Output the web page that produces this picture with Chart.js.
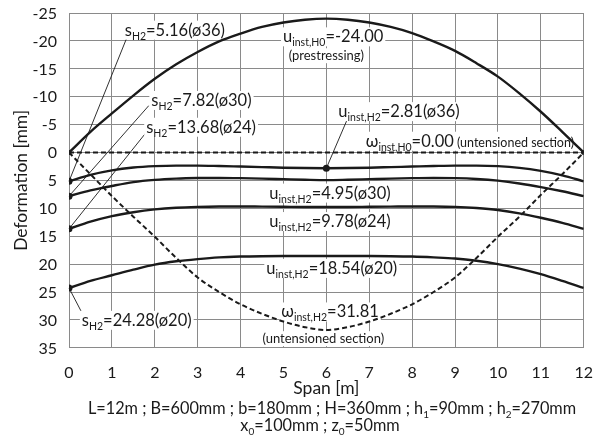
<!DOCTYPE html>
<html>
<head>
<meta charset="utf-8">
<script src="https://cdn.jsdelivr.net/npm/chart.js@4.4.1/dist/chart.umd.min.js"></script>
<style>
  html, body { margin: 0; padding: 0; background: #fff; }
  canvas { display: block; }
</style>
</head>
<body>
<canvas id="deform" width="608" height="436"></canvas>
<script>
// span positions [m]
var spanX = [0, 0.5, 1, 1.5, 2, 2.5, 3, 3.5, 4, 4.5, 5, 5.5, 6, 6.5, 7, 7.5, 8, 8.5, 9, 9.5, 10, 10.5, 11, 11.5, 12];

// u_inst,H0 (prestressing)
var uH0 = [0, -3.7, -7.0, -10.2, -13.2, -15.8, -18.0, -19.9, -21.3, -22.5, -23.3, -23.8, -24.0,
           -23.8, -23.3, -22.5, -21.4, -19.9, -18.2, -16.0, -13.6, -10.6, -7.3, -3.7, 0];
// u_inst,H2 for each bar diameter
var uPhi36 = [5.16, 4.0, 3.2, 2.7, 2.45, 2.35, 2.35, 2.42, 2.52, 2.62, 2.72, 2.79, 2.81,
              2.79, 2.72, 2.62, 2.52, 2.42, 2.35, 2.35, 2.45, 2.75, 3.3, 4.1, 5.16];
var uPhi30 = [7.82, 6.8, 6.0, 5.3, 4.9, 4.68, 4.58, 4.56, 4.6, 4.68, 4.78, 4.88, 4.95,
              4.88, 4.78, 4.68, 4.6, 4.56, 4.6, 4.75, 5.05, 5.55, 6.2, 6.95, 7.82];
var uPhi24 = [13.68, 12.4, 11.4, 10.7, 10.2, 9.9, 9.75, 9.68, 9.67, 9.7, 9.73, 9.76, 9.78,
              9.76, 9.73, 9.7, 9.67, 9.68, 9.75, 9.95, 10.3, 10.9, 11.7, 12.6, 13.68];
var uPhi20 = [24.28, 23.0, 22.0, 21.0, 20.1, 19.5, 19.1, 18.8, 18.65, 18.58, 18.55, 18.54, 18.54,
              18.54, 18.55, 18.58, 18.65, 18.8, 19.0, 19.4, 20.0, 20.8, 21.8, 23.0, 24.28];
// omega_inst,H2 (untensioned section)
var omegaH2 = [0, 3.9, 7.8, 11.5, 15.1, 18.9, 22.4, 25.0, 27.2, 28.9, 30.3, 31.3, 31.81,
               31.3, 30.3, 28.9, 27.2, 25.0, 22.4, 18.9, 15.1, 11.5, 7.6, 3.9, 0];
// omega_inst,H0 (untensioned section)
var omegaH0X = [0, 12];
var omegaH0 = [0, 0];

var yMin = -25, yMax = 35, yStep = 5;
var xMin = 0, xMax = 12, xStep = 1;

var FONT = 'Lato, "Open Sans", sans-serif';
var INK = '#1a1a1a';

function pts(xs, ys) {
  return ys.map(function (v, i) { return { x: xs[i], y: v }; });
}
function startDot(n, extra) {
  var r = [];
  for (var i = 0; i < n; i++) r.push(i === 0 || i === extra ? 3.5 : 0);
  return r;
}

function solid(data, dots) {
  return {
    data: pts(spanX, data),
    borderColor: INK, backgroundColor: INK, borderWidth: 2.4,
    pointRadius: dots, pointBackgroundColor: INK, pointBorderWidth: 0,
    cubicInterpolationMode: 'monotone', fill: false
  };
}

var datasets = [
  solid(uH0, 0),
  solid(uPhi36, startDot(spanX.length, 12)),
  solid(uPhi30, startDot(spanX.length)),
  solid(uPhi24, startDot(spanX.length)),
  solid(uPhi20, startDot(spanX.length)),
  {
    data: pts(spanX, omegaH2), borderColor: INK, borderWidth: 2, borderDash: [5, 3],
    pointRadius: 0, cubicInterpolationMode: 'monotone', fill: false
  },
  {
    data: pts(omegaH0X, omegaH0), borderColor: INK, borderWidth: 2, borderDash: [5, 3],
    pointRadius: [2.5, 2.5], pointBackgroundColor: INK, pointBorderWidth: 0, fill: false
  }
];

// rich text: parts = [text, size, isSubscript]
function richWidth(ctx, parts) {
  var w = 0;
  parts.forEach(function (p) { ctx.font = p[1] + 'px ' + FONT; w += ctx.measureText(p[0]).width; });
  return w;
}
function drawRich(ctx, parts, x, cy, align, box) {
  var w = richWidth(ctx, parts);
  var x0 = align === 'center' ? x - w / 2 : (align === 'right' ? x - w : x);
  var main = parts[0][1];
  if (box) {
    ctx.fillStyle = '#fff';
    ctx.fillRect(x0 - 2, cy - main * 0.55, w + 4, main * 1.15);
  }
  ctx.fillStyle = INK;
  ctx.textAlign = 'left';
  ctx.textBaseline = 'alphabetic';
  parts.forEach(function (p) {
    ctx.font = p[1] + 'px ' + FONT;
    var base = cy + main * 0.36 + (p[2] ? 4 : 0);
    ctx.fillText(p[0], x0, base);
    x0 += ctx.measureText(p[0]).width;
  });
}

var notes = [
  { x: 1.30, y: -22.0, parts: [['s', 16.5], ['H2', 10.5, 1], ['=5.16(ø36)', 16.5]], from: [1.35, -20.6], to: [0, uPhi36[0]] },
  { x: 1.92, y: -9.4, parts: [['s', 16.5], ['H2', 10.5, 1], ['=7.82(ø30)', 16.5]], from: [1.86, -8.4], to: [0, uPhi30[0]] },
  { x: 1.80, y: -4.6, parts: [['s', 16.5], ['H2', 10.5, 1], ['=13.68(ø24)', 16.5]], from: [1.80, -3.6], to: [0, uPhi24[0]] },
  { x: 0.30, y: 30.0, parts: [['s', 16.5], ['H2', 10.5, 1], ['=24.28(ø20)', 16.5]], from: [0.32, 29.0], to: [0, uPhi20[0]] },
  { x: 4.99, y: -20.8, parts: [['u', 16.5], ['inst,H0', 10.5, 1], ['=-24.00', 16.5]] },
  { x: 6.0, y: -17.4, center: true, parts: [['(prestressing)', 13]] },
  { x: 6.28, y: -7.4, parts: [['u', 16.5], ['inst,H2', 10.5, 1], ['=2.81(ø36)', 16.5]], from: [6.48, -5.8], to: [6, uPhi36[12]] },
  { x: 6.92, y: -2.1, parts: [['ω', 16.5], ['inst,H0', 10.5, 1], ['=0.00', 16.5], [' (untensioned section)', 12.5]] },
  { x: 4.67, y: 7.2, parts: [['u', 16.5], ['inst,H2', 10.5, 1], ['=4.95(ø30)', 16.5]] },
  { x: 4.67, y: 12.3, parts: [['u', 16.5], ['inst,H2', 10.5, 1], ['=9.78(ø24)', 16.5]] },
  { x: 4.60, y: 20.7, parts: [['u', 16.5], ['inst,H2', 10.5, 1], ['=18.54(ø20)', 16.5]] },
  { x: 4.95, y: 28.5, parts: [['ω', 16.5], ['inst,H2', 10.5, 1], ['=31.81', 16.5]] },
  { x: 5.93, y: 33.3, center: true, parts: [['(untensioned section)', 13]] }
];

var xTitle = [['Span [m]', 17.5]];
var footer1 = [['L=12m ; B=600mm ; b=180mm ; H=360mm ; h', 16.3], ['1', 10, 1], ['=90mm ; h', 16.3], ['2', 10, 1], ['=270mm', 16.3]];
var footer2 = [['x', 16.3], ['0', 10, 1], ['=100mm ; z', 16.3], ['0', 10, 1], ['=50mm', 16.3]];

var notesPlugin = {
  id: 'notes',
  beforeDatasetsDraw: function (chart) {
    var ctx = chart.ctx, xs = chart.scales.x, ys = chart.scales.y;
    ctx.save();
    ctx.strokeStyle = INK;
    ctx.lineWidth = 0.9;
    notes.forEach(function (n) {
      if (!n.from) return;
      ctx.beginPath();
      ctx.moveTo(xs.getPixelForValue(n.from[0]), ys.getPixelForValue(n.from[1]));
      ctx.lineTo(xs.getPixelForValue(n.to[0]), ys.getPixelForValue(n.to[1]));
      ctx.stroke();
    });
    notes.forEach(function (n) {
      drawRich(ctx, n.parts, xs.getPixelForValue(n.x), ys.getPixelForValue(n.y), n.center ? 'center' : 'left', true);
    });
    ctx.restore();
  },
  afterDraw: function (chart) {
    var ctx = chart.ctx, area = chart.chartArea, ys = chart.scales.y;
    var bottom = ys.getPixelForValue(yMax);
    ctx.save();
    // y tick labels
    ys.ticks.forEach(function (t) {
      drawRich(ctx, [[String(t.value), 16]], area.left - 12, ys.getPixelForValue(t.value), 'right', false);
    });
    drawRich(ctx, xTitle, (area.left + area.right) / 2, bottom + 40, 'center', false);
    drawRich(ctx, footer1, 332, 408, 'center', false);
    drawRich(ctx, footer2, 320, 425, 'center', false);
    ctx.restore();
  }
};

new Chart(document.getElementById('deform'), {
  type: 'line',
  data: { datasets: datasets },
  options: {
    responsive: false,
    animation: false,
    layout: { padding: { left: 0, right: 12, top: 13, bottom: 39 } },
    plugins: { legend: { display: false }, tooltip: { enabled: false } },
    scales: {
      x: {
        type: 'linear', min: xMin, max: xMax,
        ticks: { stepSize: xStep, color: INK, padding: 15, font: { family: FONT, size: 16 } },
        grid: { color: '#8a8a8a', lineWidth: 1, drawTicks: false },
        border: { color: '#8a8a8a' }
      },
      y: {
        type: 'linear', min: yMin, max: yMax, reverse: true,
        ticks: { stepSize: yStep, display: false },
        grid: { color: '#8a8a8a', lineWidth: 1, drawTicks: false },
        border: { color: '#8a8a8a' },
        title: { display: true, text: 'Deformation [mm]', color: INK, padding: { top: 11, bottom: 0 }, font: { family: FONT, size: 17.5 } },
        afterFit: function (s) { s.width = 69; }
      }
    }
  },
  plugins: [notesPlugin]
});
</script>
</body>
</html>
